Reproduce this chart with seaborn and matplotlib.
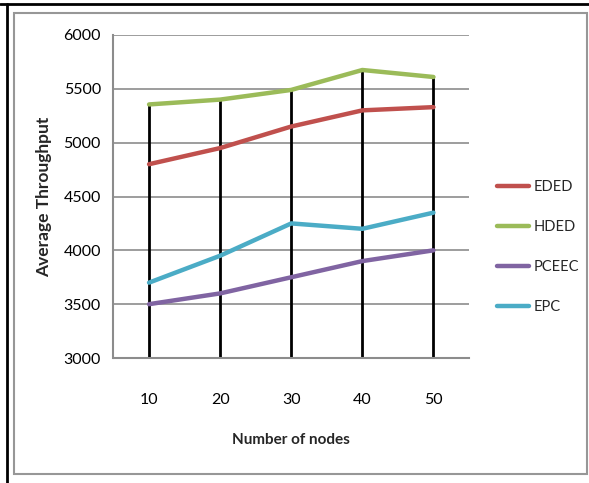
import matplotlib
matplotlib.use("Agg")
import matplotlib.pyplot as plt
import seaborn as sns
import pandas as pd
from matplotlib.patches import Rectangle
from matplotlib.lines import Line2D

nodes = [10, 20, 30, 40, 50]
eded = [4800, 4950, 5150, 5300, 5330]
hded = [5355, 5400, 5490, 5675, 5610]
pceec = [3500, 3600, 3750, 3900, 4000]
epc = [3700, 3950, 4250, 4200, 4350]
series_names = ["EDED", "HDED", "PCEEC", "EPC"]
series_colors = ["#C0504D", "#9BBB59", "#8064A2", "#4BACC6"]
y_ticks = [3000, 3500, 4000, 4500, 5000, 5500, 6000]

df = pd.DataFrame({
    "nodes": nodes * 4,
    "throughput": eded + hded + pceec + epc,
    "scheme": sum([[n] * len(nodes) for n in series_names], []),
})

sns.set_theme(style="white")
plt.rcParams["font.family"] = ["Lato", "DejaVu Sans"]

W, H = 589, 483
fig = plt.figure(figsize=(W / 100, H / 100), dpi=100)

# frame around the chart: black top/left edge and a thin grey panel border
fig.add_artist(Line2D([0, 1], [1 - 4 / H, 1 - 4 / H], color="black", lw=2.0, transform=fig.transFigure))
fig.add_artist(Line2D([7 / W, 7 / W], [0, 1 - 4 / H], color="black", lw=2.0, transform=fig.transFigure))
fig.add_artist(Rectangle((13.5 / W, (H - 473.5) / H), (586.5 - 13.5) / W, (473.5 - 13) / H,
                         fill=False, edgecolor="#979797", lw=1.5, transform=fig.transFigure))

left, right, top, bottom = 113.5, 469, 35, 358
ax = fig.add_axes([left / W, (H - bottom) / H, (right - left) / W, (bottom - top) / H])

# drop lines from the highest series down to the axis floor
tops = [max(v) for v in zip(eded, hded, pceec, epc)]
ax.vlines(nodes, y_ticks[0], tops, color="black", lw=2.0, zorder=2)

sns.lineplot(data=df, x="nodes", y="throughput", hue="scheme", hue_order=series_names,
             palette=series_colors, lw=3.2, ax=ax, legend=False, zorder=3)

ax.set_xlim(5, 55)
ax.set_ylim(y_ticks[0], y_ticks[-1])
ax.set_xticks(nodes)
ax.set_yticks(y_ticks)
ax.yaxis.grid(True, color="#8c8c8c", lw=1.2)
ax.set_axisbelow(True)
for s in ["top", "right"]:
    ax.spines[s].set_visible(False)
for s in ["left", "bottom"]:
    ax.spines[s].set_color("#8c8c8c")
    ax.spines[s].set_linewidth(1.5)
ax.tick_params(axis="y", length=5, width=1.2, color="#8c8c8c", pad=4, labelsize=11.5, labelcolor="black")
ax.tick_params(axis="x", length=0, pad=25, labelsize=11.5, labelcolor="black")

ax.set_xlabel("Number of nodes", fontsize=11, fontweight="bold", labelpad=19)
ax.set_ylabel("Average Throughput", fontsize=12.5, fontweight="bold", labelpad=8)

handles = [Line2D([], [], color=c, lw=3.2) for c in series_colors]
fig.legend(handles, series_names, loc="upper left", bbox_to_anchor=(491 / W, 1 - 174 / H),
           frameon=False, fontsize=10.5, handlelength=2.2, handletextpad=0.3,
           labelspacing=1.78, borderaxespad=0)

fig.savefig("out.png", dpi=100)
